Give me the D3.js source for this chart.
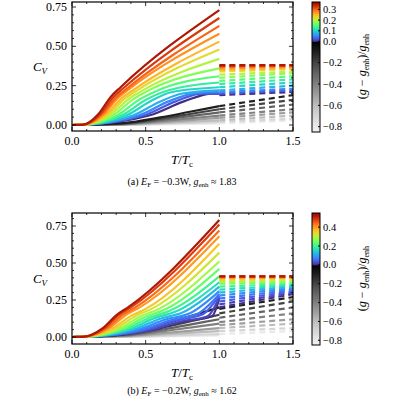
<!DOCTYPE html>
<html><head><meta charset="utf-8">
<script src="https://cdn.jsdelivr.net/npm/d3@7"></script>
<style>body{margin:0;background:#fff}text{font-family:"Liberation Serif",serif}</style>
</head><body><div id="chart"></div>
<script>
// panel (a): E_F=-0.3W
var gA    = [0.35,0.325,0.3,0.275,0.25,0.225,0.2,0.175,0.15,0.125,0.1,0.075,0.05,0.025,0.0,-0.1,-0.2,-0.3,-0.4,-0.5,-0.6,-0.7,-0.8];
var cjA   = [0.73,0.68,0.63,0.58,0.53,0.48,0.42,0.36,0.31,0.27,0.24,0.22,0.21,0.20,0.20,0.12,0.10,0.08,0.06,0.045,0.03,0.02,0.01];
var tkA   = [0.33,0.35,0.37,0.39,0.42,0.45,0.48,0.52,0.57,0.62,0.68,0.75,0.82,0.88,0.95,1,1,1,1,1,1,1,1];
var ckA   = [0.24,0.235,0.23,0.23,0.225,0.225,0.22,0.22,0.215,0.21,0.21,0.2,0.2,0.2,0.2,0.12,0.10,0.08,0.06,0.045,0.03,0.02,0.01];
var cn1A  = [0.38,0.375,0.37,0.36,0.35,0.34,0.32,0.30,0.28,0.26,0.24,0.22,0.21,0.20,0.19,0.12,0.10,0.08,0.06,0.045,0.03,0.02,0.01];
var cn2A  = [0.38,0.38,0.375,0.37,0.36,0.355,0.34,0.33,0.31,0.29,0.27,0.25,0.23,0.22,0.21,0.19,0.16,0.13,0.10,0.08,0.06,0.04,0.03];
// panel (b): E_F=-0.2W
var gB    = [0.52,0.48,0.44,0.4,0.36,0.32,0.28,0.24,0.2,0.16,0.12,0.08,0.06,0.04,0.02,0.0,-0.1,-0.2,-0.3,-0.4,-0.5,-0.6,-0.7,-0.8];
var cjB   = [0.79,0.76,0.72,0.68,0.63,0.57,0.51,0.46,0.41,0.37,0.34,0.31,0.29,0.28,0.27,0.26,0.20,0.15,0.12,0.09,0.06,0.04,0.02,0.01];
var tkB   = [0.38,0.40,0.43,0.46,0.50,0.54,0.58,0.62,0.66,0.7,0.75,0.8,0.85,0.88,0.92,0.95,1,1,1,1,1,1,1,1];
var ckB   = [0.20,0.20,0.20,0.20,0.19,0.19,0.185,0.18,0.175,0.17,0.165,0.16,0.155,0.15,0.14,0.14,0.20,0.15,0.12,0.09,0.06,0.04,0.02,0.01];
var cn1B  = [0.41,0.41,0.405,0.40,0.39,0.38,0.37,0.36,0.34,0.32,0.30,0.28,0.26,0.24,0.22,0.20,0.19,0.16,0.13,0.10,0.08,0.06,0.04,0.02];
var cn2B  = [0.41,0.41,0.41,0.40,0.40,0.39,0.38,0.37,0.36,0.35,0.34,0.33,0.32,0.31,0.30,0.29,0.27,0.24,0.20,0.16,0.12,0.09,0.06,0.04];

var xTicks = [0, 0.5, 1.0, 1.5];
var yTicks = [0, 0.25, 0.5, 0.75];

var svg = d3.select("#chart").append("svg").attr("width", 400).attr("height", 400);

function drawPanel(P) {
  var x = d3.scaleLinear().domain([0, 1.5]).range([72, 293]);
  var y = d3.scaleLinear().domain([0, 0.75]).range(P.y0);
  var top = P.box[0], bot = P.box[1];
  var col = function (g) {
    return g >= 0 ? d3.interpolateTurbo(0.04 + 0.93 * g / P.cbMax) : d3.interpolateGreys(1 + g * 1.05);
  };
  var clip = "clip" + P.id;
  svg.append("clipPath").attr("id", clip).append("rect")
    .attr("x", 72).attr("y", top).attr("width", 221).attr("height", bot - top);
  var g = svg.append("g").attr("clip-path", "url(#" + clip + ")");
  var line = d3.line().x(d => x(d[0])).y(d => y(d[1])).curve(d3.curveMonotoneX);
  // draw from bottom (grey) to top
  var order = d3.range(P.g.length).sort((a, b) => P.g[a] - P.g[b]);
  order.forEach(function (i) {
    var tk = P.tk[i], ck = P.ck[i];
    var pts = [[0, 0], [0.07, 0.001]];
    if (tk < 1) {
      pts.push([tk * 0.55, ck * 0.3], [tk * 0.8, ck * 0.75], [tk, ck], [1, P.cj[i]]);
    } else {
      pts.push([0.35, ck * 0.1], [0.6, ck * 0.4], [0.8, ck * 0.7], [1, P.cj[i]]);
    }
    g.append("path").attr("d", line(pts)).attr("fill", "none")
      .attr("stroke", col(P.g[i])).attr("stroke-width", 2.2);
    g.append("line").attr("x1", x(1)).attr("x2", x(1.5))
      .attr("y1", y(P.cn1[i])).attr("y2", y(P.cn2[i]))
      .attr("stroke", col(P.g[i])).attr("stroke-width", 2.2).attr("stroke-dasharray", "6,4");
  });
  // frame and ticks
  svg.append("rect").attr("x", 72).attr("y", top).attr("width", 221).attr("height", bot - top)
    .attr("fill", "none").attr("stroke", "#000").attr("stroke-width", 1.2);
  var tk = svg.append("g").attr("stroke", "#000").attr("stroke-width", 0.8);
  d3.range(0, 1.51, 0.1).forEach(function (v) {
    var L = Math.abs(v * 2 - Math.round(v * 2)) < 1e-6 ? 4 : 2;
    tk.append("line").attr("x1", x(v)).attr("x2", x(v)).attr("y1", bot).attr("y2", bot - L);
    tk.append("line").attr("x1", x(v)).attr("x2", x(v)).attr("y1", top).attr("y2", top + L);
  });
  d3.range(-0.05, 0.86, 0.05).forEach(function (v) {
    if (y(v) < top || y(v) > bot) return;
    var L = Math.abs(v * 4 - Math.round(v * 4)) < 1e-6 ? 4 : 2;
    tk.append("line").attr("y1", y(v)).attr("y2", y(v)).attr("x1", 72).attr("x2", 72 + L);
    tk.append("line").attr("y1", y(v)).attr("y2", y(v)).attr("x1", 293).attr("x2", 293 - L);
  });
  xTicks.forEach(v => svg.append("text").attr("x", x(v)).attr("y", bot + 14)
    .attr("text-anchor", "middle").attr("font-size", 12).text(v.toFixed(1)));
  yTicks.forEach(v => svg.append("text").attr("x", 67).attr("y", y(v) + 4)
    .attr("text-anchor", "end").attr("font-size", 12).text(v.toFixed(2)));
  var xl = svg.append("text").attr("x", 182).attr("y", bot + 33).attr("text-anchor", "middle").attr("font-size", 13);
  xl.append("tspan").attr("font-style", "italic").text("T");
  xl.append("tspan").text("/");
  xl.append("tspan").attr("font-style", "italic").text("T");
  xl.append("tspan").attr("font-size", 9).attr("dy", 3).text("c");
  var yl = svg.append("text").attr("transform", "translate(40," + ((top + bot) / 2 + 4) + ")")
    .attr("text-anchor", "middle").attr("font-size", 13);
  yl.append("tspan").attr("font-style", "italic").text("C");
  yl.append("tspan").attr("font-style", "italic").attr("font-size", 9).attr("dy", 3).text("V");
  var cap = svg.append("text").attr("x", 182).attr("y", P.capY).attr("text-anchor", "middle").attr("font-size", 10);
  cap.append("tspan").text(P.lab + " ");
  cap.append("tspan").attr("font-style", "italic").text("E");
  cap.append("tspan").attr("font-size", 7).attr("dy", 2).text("F");
  cap.append("tspan").attr("dy", -2).text(" = \u2212" + P.ef + "W, ");
  cap.append("tspan").attr("font-style", "italic").text("g");
  cap.append("tspan").attr("font-size", 7).attr("dy", 2).text("enh");
  cap.append("tspan").attr("dy", -2).text(" \u2248 " + P.genh);

  // colorbar
  var cy = d3.scaleLinear().domain([-0.85, P.cbMax]).range([bot + 1, top]);
  var gid = "grad" + P.id;
  var grad = svg.append("defs").append("linearGradient").attr("id", gid)
    .attr("x1", 0).attr("x2", 0).attr("y1", 1).attr("y2", 0);
  d3.range(-0.85, P.cbMax + 0.001, 0.01).forEach(function (v) {
    grad.append("stop").attr("offset", (v + 0.85) / (P.cbMax + 0.85)).attr("stop-color", col(v));
  });
  svg.append("rect").attr("x", 312).attr("y", top).attr("width", 8).attr("height", bot + 1 - top)
    .attr("fill", "url(#" + gid + ")").attr("stroke", "#000").attr("stroke-width", 1);
  P.cbTicks.forEach(function (v) {
    svg.append("line").attr("x1", 318).attr("x2", 320).attr("y1", cy(v)).attr("y2", cy(v)).attr("stroke", "#000");
    svg.append("text").attr("x", 323).attr("y", cy(v) + 3.5).attr("font-size", 10.5)
      .text((v < 0 ? "\u2212" : "") + Math.abs(v).toFixed(1));
  });
  var cl = svg.append("text").attr("transform", "translate(366," + ((top + bot) / 2) + ") rotate(-90)")
    .attr("text-anchor", "middle").attr("font-size", 12);
  cl.append("tspan").text("(");
  cl.append("tspan").attr("font-style", "italic").text("g");
  cl.append("tspan").text(" \u2212 ");
  cl.append("tspan").attr("font-style", "italic").text("g");
  cl.append("tspan").attr("font-size", 8).attr("dy", 3).text("enh");
  cl.append("tspan").attr("dy", -3).text(")/");
  cl.append("tspan").attr("font-style", "italic").text("g");
  cl.append("tspan").attr("font-size", 8).attr("dy", 3).text("enh");
}

drawPanel({id: "a", g: gA, cj: cjA, tk: tkA, ck: ckA, cn1: cn1A, cn2: cn2A, y0: [125, 7], box: [2, 131],
  cbMax: 0.37, cbTicks: [-0.8, -0.6, -0.4, -0.2, 0, 0.1, 0.2, 0.3], capY: 185, lab: "(a)", ef: "0.3", genh: "1.83"});
drawPanel({id: "b", g: gB, cj: cjB, tk: tkB, ck: ckB, cn1: cn1B, cn2: cn2B, y0: [337, 226], box: [213, 344],
  cbMax: 0.55, cbTicks: [-0.8, -0.6, -0.4, -0.2, 0, 0.2, 0.4], capY: 394, lab: "(b)", ef: "0.2", genh: "1.62"});
</script></body></html>
